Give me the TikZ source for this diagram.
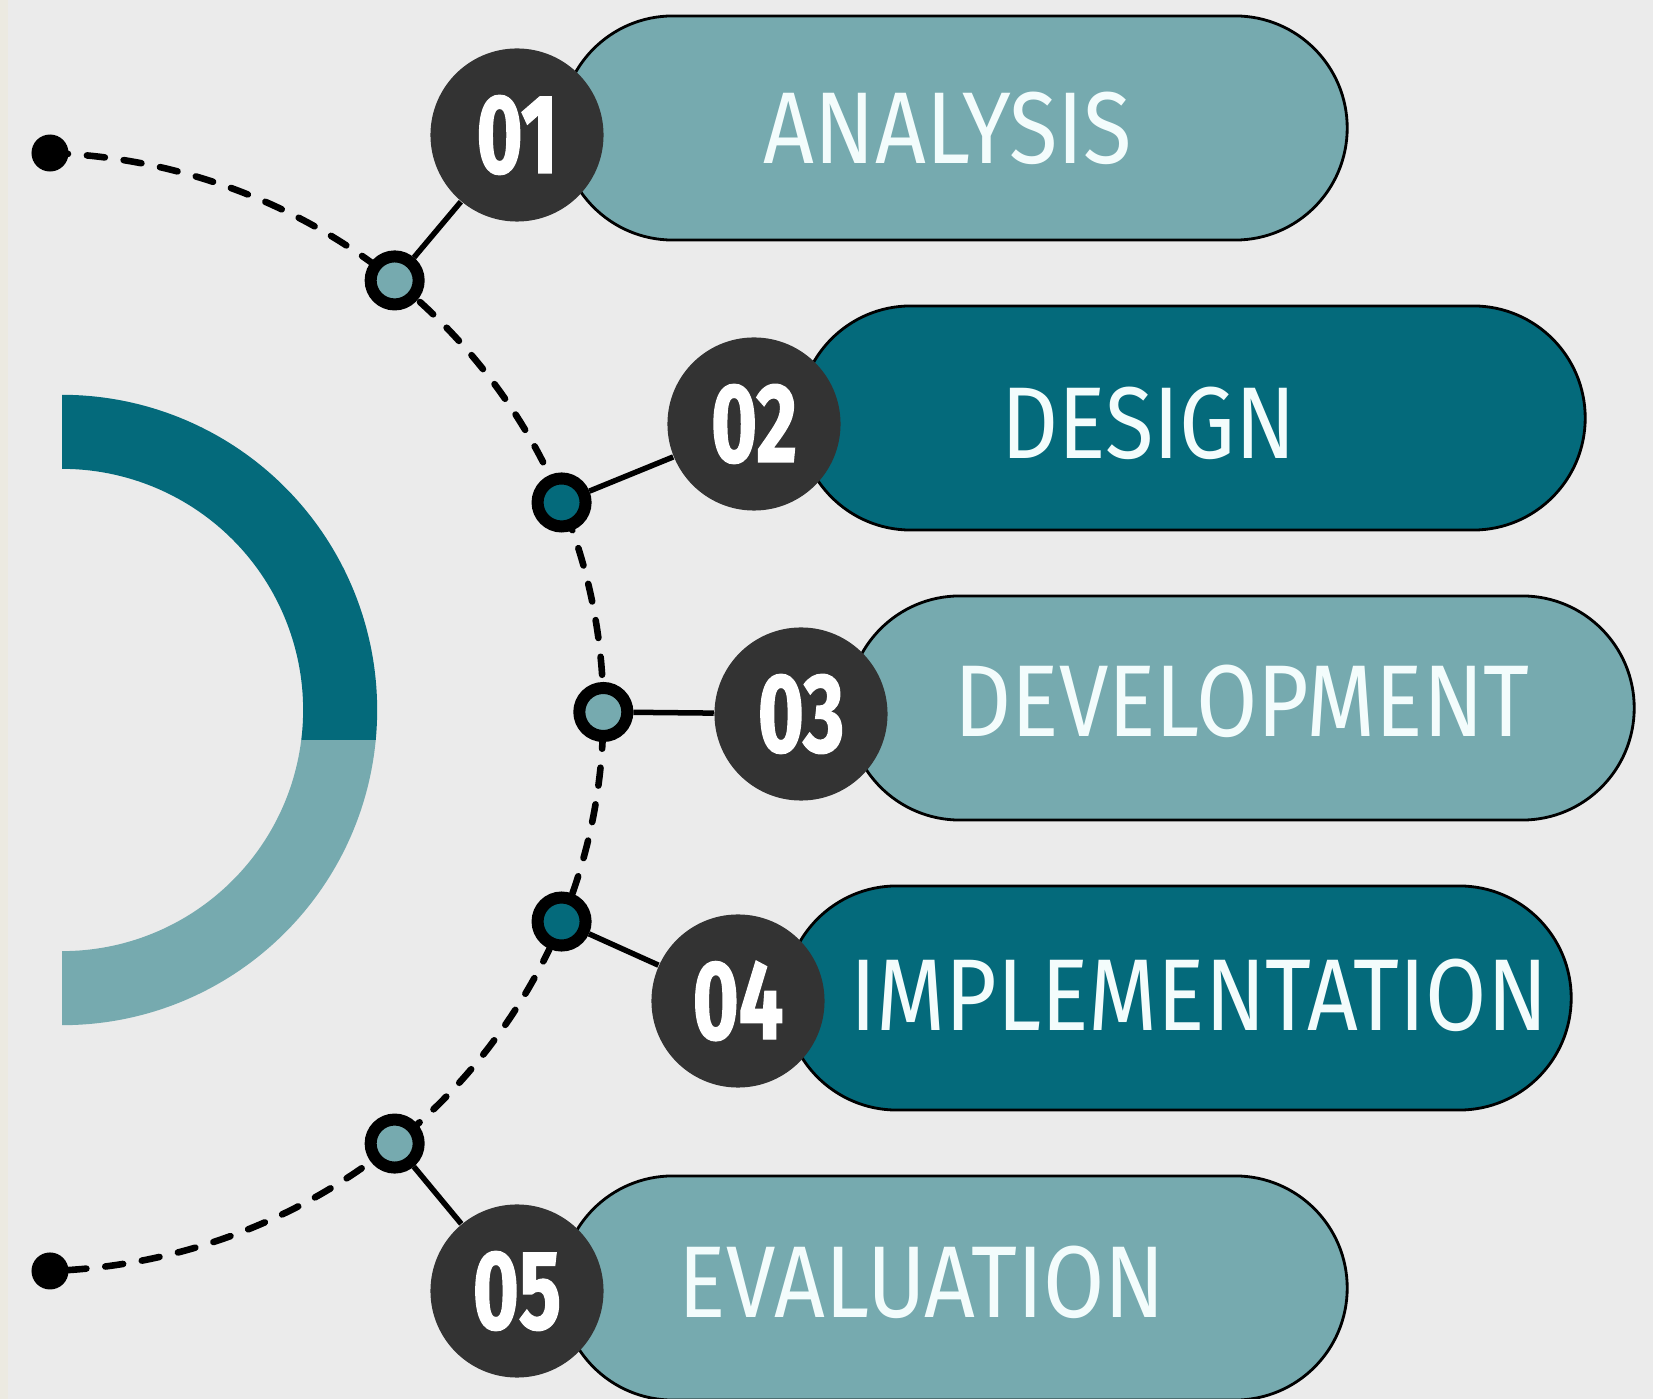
\documentclass[tikz,border=0pt]{standalone}
\usepackage{fontspec}
\setmainfont{Fira Sans}
\newfontfamily\labelfont{Fira Sans}[FakeStretch=0.87]
\newfontfamily\numfont{Fira Sans}[FakeStretch=0.7, FakeBold=1.2]
\usetikzlibrary{shapes, positioning, calc}
\definecolor{bggray}{HTML}{EBEBEB}
\definecolor{bgstrip}{HTML}{ECEAE1}
\definecolor{tealdark}{HTML}{046A7B}
\definecolor{teallight}{HTML}{76AAAF}
\definecolor{numgray}{HTML}{333333}
\definecolor{labelwhite}{HTML}{F3FCFC}
\pgfdeclarelayer{bg}
\pgfsetlayers{bg,main}
\tikzstyle{pilllight} = [rectangle, rounded corners=1.12cm, minimum width=7.86cm, minimum height=2.24cm, draw=black, line width=0.8pt, fill=teallight]
\tikzstyle{pilldark} = [pilllight, fill=tealdark]
\tikzstyle{stepnum} = [circle, minimum size=1.73cm, inner sep=0pt, fill=numgray, text=white, font=\numfont\bfseries\fontsize{32}{34}\selectfont]
\tikzstyle{steplabel} = [text=labelwhite, font=\labelfont\fontsize{29}{30}\selectfont]
\tikzstyle{knotlight} = [circle, minimum size=0.48cm, inner sep=0pt, draw=black, line width=0.12cm, fill=teallight]
\tikzstyle{knotdark} = [knotlight, fill=tealdark]
\tikzstyle{enddot} = [circle, minimum size=0.37cm, inner sep=0pt, fill=black]
\tikzstyle{dashline} = [line width=0.066cm, line cap=round, dash pattern=on 0.18cm off 0.19cm]
\tikzstyle{link} = [line width=0.055cm]

\begin{document}
\begin{tikzpicture}[x=0.01cm, y=0.01cm]
    \useasboundingbox (0,0) rectangle (1653,1399);
    \coordinate (ctr) at (30,687);
    \coordinate (ringc) at (62,689);

    \node (p1) [pilllight] at (954,1271) {};
    \node (p2) [pilldark] at (1192,981) {};
    \node (p3) [pilllight] at (1241,691) {};
    \node (p4) [pilldark] at (1178,401) {};
    \node (p5) [pilllight] at (954,111) {};

    \node (t1) [steplabel] at (948,1271) {ANALYSIS};
    \node (t2) [steplabel] at (1149,976) {DESIGN};
    \node (t3) [steplabel] at (1242,698) {DEVELOPMENT};
    \node (t4) [steplabel] at (1199,404) {IMPLEMENTATION};
    \node (t5) [steplabel] at (922,117) {EVALUATION};

    \node (n1) [stepnum] at (517,1264) {01};
    \node (n2) [stepnum] at (754,975) {02};
    \node (n3) [stepnum] at (801,685) {03};
    \node (n4) [stepnum] at (738,398) {04};
    \node (n5) [stepnum] at (517,108) {05};

    \node (dtop) [enddot] at ($(ctr)+(88:5.73cm and 5.59cm)$) {};
    \node (dbot) [enddot] at ($(ctr)+(-88:5.73cm and 5.59cm)$) {};
    \node (k1) [knotlight] at ($(ctr)+(50.5:5.73cm and 5.59cm)$) {};
    \node (k2) [knotdark] at ($(ctr)+(22:5.73cm and 5.59cm)$) {};
    \node (k3) [knotlight] at ($(ctr)+(0:5.73cm and 5.59cm)$) {};
    \node (k4) [knotdark] at ($(ctr)+(-22:5.73cm and 5.59cm)$) {};
    \node (k5) [knotlight] at ($(ctr)+(-50.5:5.73cm and 5.59cm)$) {};

    \begin{pgfonlayer}{bg}
        \fill [bggray] (0,0) rectangle (1653,1399);
        \fill [bgstrip] (0,0) rectangle (8,1399);
        \fill [tealdark] ($(ringc)+(90:3.15cm)$) arc[start angle=90, end angle=-5.5, radius=3.15cm]
            -- ($(ringc)+(-7.2:2.41cm)$) arc[start angle=-7.2, end angle=90, radius=2.41cm] -- cycle;
        \fill [teallight] ($(ringc)+(-5.5:3.15cm)$) arc[start angle=-5.5, end angle=-90, radius=3.15cm]
            -- ($(ringc)+(-90:2.41cm)$) arc[start angle=-90, end angle=-7.2, radius=2.41cm] -- cycle;
        \draw [dashline] (dtop.center) arc[start angle=88, end angle=-88, x radius=5.73cm, y radius=5.59cm];
        \draw [link] (k1) -- (n1);
        \draw [link] (k2) -- (n2);
        \draw [link] (k3) -- (n3);
        \draw [link] (k4) -- (n4);
        \draw [link] (k5) -- (n5);
    \end{pgfonlayer}
\end{tikzpicture}
\end{document}
